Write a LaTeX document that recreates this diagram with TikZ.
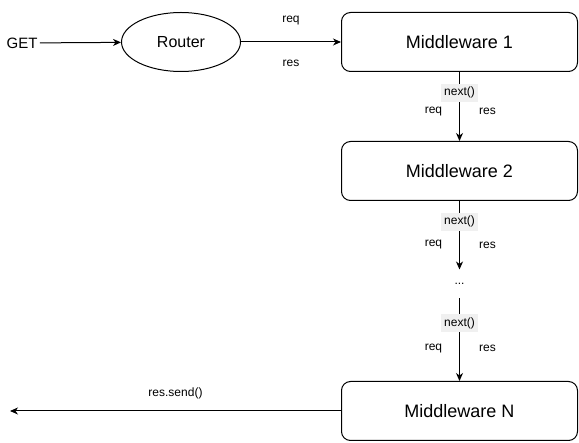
\documentclass[tikz,border=0pt]{standalone}
\usepackage{fontspec}
\setmainfont{Liberation Sans}
\usepackage{tikz}
\usetikzlibrary{shapes.geometric, arrows.meta}
\definecolor{nextgray}{RGB}{240,240,240}

\begin{document}
\begin{tikzpicture}[x=1pt, y=-1pt, line width=1pt,
		flow/.style={-{Stealth[length=8pt, width=7pt, inset=2.5pt]}},
		midbox/.style={draw, rounded corners=9pt, minimum width=236pt, minimum height=59pt, font=\fontsize{18}{21}\selectfont},
		lbl/.style={font=\fontsize{12}{14}\selectfont, inner sep=0pt},
		nextlbl/.style={lbl, fill=nextgray, inner xsep=3pt, minimum height=18pt}]

		\useasboundingbox (0, 0) rectangle (579, 443);

		\node[inner sep=2pt, font=\fontsize{15}{18}\selectfont] (get) at (22, 43) {GET};
		\node[draw, ellipse, minimum width=119pt, minimum height=59pt, font=\fontsize{16}{19}\selectfont] (router) at (181, 42) {Router};
		\node[midbox] (mw1) at (459.5, 42) {Middleware 1};
		\node[midbox] (mw2) at (459.5, 171) {Middleware 2};
		\node[lbl, minimum height=28pt] (dots) at (459.5, 284) {...};
		\node[midbox] (mwn) at (459.5, 411) {Middleware N};
		\coordinate (out) at (10, 411);

		\draw[flow] (get) -- (router);
		\draw[flow] (router) -- (mw1)
			node[lbl, midway, yshift=21pt] {req}
			node[lbl, midway, yshift=-21pt] {res};

		\draw[flow] (mw1) -- (mw2)
			node[nextlbl, pos=0.3] {next()}
			node[lbl, pos=0.57, xshift=-26pt] {req}
			node[lbl, pos=0.57, xshift=28pt] {res};
		\draw[flow] (mw2) -- (dots)
			node[nextlbl, pos=0.3] {next()}
			node[lbl, pos=0.64, xshift=-26pt] {req}
			node[lbl, pos=0.64, xshift=28pt] {res};
		\draw[flow] (dots) -- (mwn)
			node[nextlbl, pos=0.3] {next()}
			node[lbl, pos=0.61, xshift=-26pt] {req}
			node[lbl, pos=0.61, xshift=28pt] {res};

		\draw[flow] (mwn) -- (out)
			node[lbl, midway, yshift=18pt] {res.send()};
	\end{tikzpicture}
\end{document}
